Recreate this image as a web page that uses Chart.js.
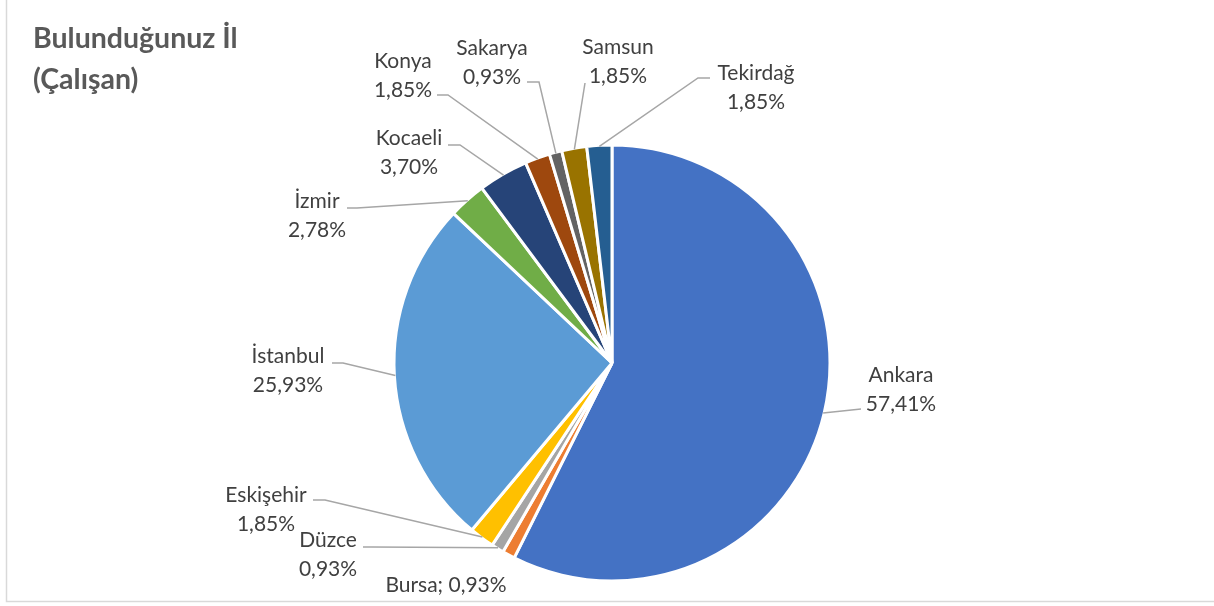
<!DOCTYPE html>
<html>
<head>
<meta charset="utf-8">
<script src="https://cdn.jsdelivr.net/npm/chart.js@4.4.1/dist/chart.umd.min.js"></script>
<style>
    html, body { margin: 0; padding: 0; background: #fff; }
    #wrap { position: relative; width: 1214px; height: 606px; }
</style>
</head>
<body>
<div id="wrap"><canvas id="chart-city" width="1214" height="606"></canvas></div>
<script>
const titleLines = ['Bulunduğunuz İl', '(Çalışan)'];
const cities  = ['Ankara', 'Bursa', 'Düzce', 'Eskişehir', 'İstanbul', 'İzmir', 'Kocaeli', 'Konya', 'Sakarya', 'Samsun', 'Tekirdağ'];
const shares  = [57.41, 0.93, 0.93, 1.85, 25.93, 2.78, 3.70, 1.85, 0.93, 1.85, 1.85];
const colors  = ['#4472C4', '#ED7D31', '#A5A5A5', '#FFC000', '#5B9BD5', '#70AD47', '#264478', '#9E480E', '#636363', '#997300', '#255E91'];

// label placement (text centre x, first baseline y, leader elbow + end); single = one-line label, no leader
const labelLayout = [
    { x: 901, y: 382, elbow: [861, 409], end: [861, 409] },
    { x: 446, y: 592, single: true },
    { x: 328, y: 547, elbow: [372, 547], end: [363, 547] },
    { x: 266, y: 502, elbow: [325, 500], end: [313, 500] },
    { x: 288, y: 363, elbow: [343, 363], end: [332, 363] },
    { x: 317, y: 208, elbow: [357, 208], end: [347, 208] },
    { x: 409, y: 145, elbow: [460, 145], end: [448, 145] },
    { x: 403, y: 68,  elbow: [448, 95],  end: [437, 95] },
    { x: 492, y: 55,  elbow: [539, 82],  end: [527, 82] },
    { x: 618, y: 54,  elbow: [585, 83],  end: [585, 83] },
    { x: 756, y: 80,  elbow: [698, 78],  end: [710, 78] },
];

const pct = (v) => v.toFixed(2).replace('.', ',') + '%';

const decorPlugin = {
    id: 'decor',
    beforeDraw(chart) {
        const ctx = chart.ctx;
        ctx.save();
        ctx.strokeStyle = '#D9D9D9';
        ctx.lineWidth = 1.5;
        ctx.beginPath();
        ctx.moveTo(6.5, 0);
        ctx.lineTo(6.5, 601.5);
        ctx.lineTo(1214, 601.5);
        ctx.stroke();

        ctx.fillStyle = '#595959';
        ctx.font = 'bold 28.5px Lato';
        ctx.textAlign = 'left';
        ctx.textBaseline = 'alphabetic';
        titleLines.forEach((t, i) => ctx.fillText(t, 33, 48 + i * 41));
        ctx.restore();
    },
    afterDatasetsDraw(chart) {
        const ctx = chart.ctx;
        const meta = chart.getDatasetMeta(0);
        ctx.save();
        meta.data.forEach((arc, i) => {
            const lay = labelLayout[i];
            const { x, y, startAngle, endAngle, outerRadius } = arc.getProps(['x', 'y', 'startAngle', 'endAngle', 'outerRadius'], true);
            const mid = (startAngle + endAngle) / 2;
            if (lay.elbow) {
                const sx = x + Math.cos(mid) * (outerRadius - 1);
                const sy = y + Math.sin(mid) * (outerRadius - 1);
                ctx.strokeStyle = '#A6A6A6';
                ctx.lineWidth = 1.5;
                ctx.beginPath();
                ctx.moveTo(sx, sy);
                ctx.lineTo(lay.elbow[0], lay.elbow[1]);
                ctx.lineTo(lay.end[0], lay.end[1]);
                ctx.stroke();
            }
            ctx.fillStyle = '#404040';
            ctx.font = '21px Lato';
            ctx.textAlign = 'center';
            ctx.textBaseline = 'alphabetic';
            if (lay.single) {
                ctx.fillText(cities[i] + '; ' + pct(shares[i]), lay.x, lay.y);
            } else {
                ctx.fillText(cities[i], lay.x, lay.y);
                ctx.fillText(pct(shares[i]), lay.x, lay.y + 28.5);
            }
        });
        ctx.restore();
    },
};

new Chart(document.getElementById('chart-city'), {
    type: 'pie',
    data: {
        labels: cities,
        datasets: [{ data: shares, backgroundColor: colors, borderColor: '#FFFFFF', borderWidth: 3 }],
    },
    options: {
        responsive: false,
        animation: false,
        radius: 218,
        layout: { padding: { left: 395, right: 385, top: 146, bottom: 26 } },
        plugins: { legend: { display: false }, tooltip: { enabled: false } },
    },
    plugins: [decorPlugin],
});
</script>
</body>
</html>
